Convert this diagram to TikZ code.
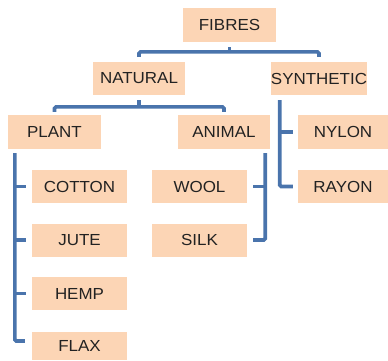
\documentclass[tikz,border=0pt]{standalone}
\usepackage{fontspec}
\setmainfont{Liberation Sans}[FakeStretch=1.06]
\definecolor{boxpeach}{HTML}{FCD5B5}
\definecolor{linkblue}{HTML}{4A74AC}
\definecolor{labelgrey}{HTML}{222222}

\begin{document}
\begin{tikzpicture}[
    x=1pt, y=1pt,
    every node/.style={font=\fontsize{16}{18}\selectfont, text=labelgrey, align=center},
    fibre/.style={fill=boxpeach, minimum width=95pt, minimum height=33pt, inner sep=0pt},
    link/.style={line width=3.6pt, color=linkblue, rounded corners=1.5pt}
  ]
  \useasboundingbox (0,0) rectangle (388,360);

  % ---------- top : fibres, natural, synthetic -------------
  \node[fibre, minimum width=93pt, minimum height=34pt] (fibres) at (229.5,335) {FIBRES};
  \node[fibre, minimum width=92pt] (natural)   at (139,281.5) {NATURAL};
  \node[fibre, minimum width=94pt] (synthetic) at (319,281.5) {SYNTHETIC};

  \draw[link] ([yshift=5pt]natural.north) -- ++(0,5) -| ([yshift=5pt]synthetic.north);
  \draw[link] ([yshift=-5pt]fibres.south) -- ++(0,-5);

  % ---------- natural : plant and animal -------------
  \node[fibre, minimum width=93pt, minimum height=34pt] (plant)  at (54.5,228) {PLANT};
  \node[fibre, minimum width=92pt, minimum height=34pt] (animal) at (224,228) {ANIMAL};

  \draw[link] ([yshift=3pt]plant.north) -- ++(0,5) -| ([yshift=3pt]animal.north);
  \draw[link] ([yshift=-5pt]natural.south) -- ++(0,-6.5);

  % ---------- plant fibres -------------
  \node[fibre] (cotton) at (79.5,173.5) {COTTON};
  \node[fibre] (jute)   at (79.5,120)   {JUTE};
  \node[fibre] (hemp)   at (79.5,66.5)  {HEMP};
  \node[fibre, minimum height=28pt] (flax) at (79.5,14) {FLAX};

  \coordinate (plantline) at ([xshift=7pt,yshift=-4pt]plant.south west);
  \draw[link] (plantline) |- ([xshift=-7pt,yshift=5pt]flax.west);
  \foreach \kid in {cotton,jute,hemp}
    \draw[link] (plantline |- \kid.west) -- ([xshift=-6pt]\kid.west);

  % ---------- animal fibres -------------
  \node[fibre] (wool) at (199.5,173.5) {WOOL};
  \node[fibre] (silk) at (199.5,120)   {SILK};

  \coordinate (animalline) at ([xshift=-5pt,yshift=-4pt]animal.south east);
  \draw[link] (animalline) |- ([xshift=6pt]silk.east);
  \draw[link] (animalline |- wool.east) -- ([xshift=6pt]wool.east);

  % ---------- synthetic fibres -------------
  \node[fibre, minimum width=90pt, minimum height=34pt] (nylon) at (343,228) {NYLON};
  \node[fibre, minimum width=90pt] (rayon) at (343,173.5) {RAYON};

  \coordinate (synthline) at ([xshift=9pt,yshift=-5pt]synthetic.south west);
  \draw[link] (synthline) |- ([xshift=-5pt]rayon.west);
  \draw[link] (synthline |- nylon.west) -- ([xshift=-5pt]nylon.west);

\end{tikzpicture}
\end{document}
